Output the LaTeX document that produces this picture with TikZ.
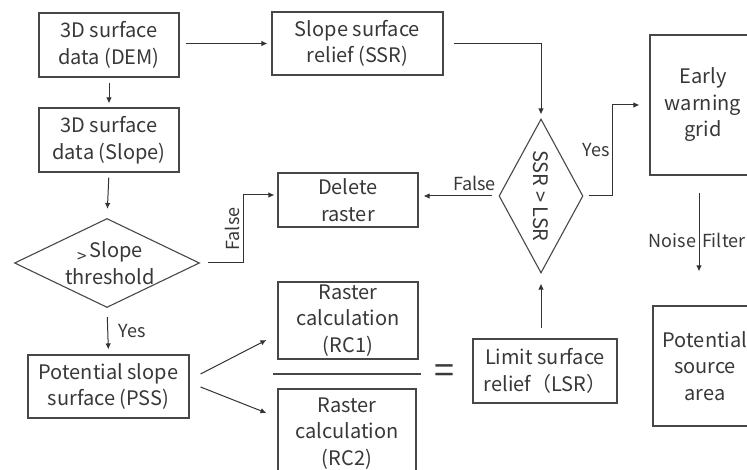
\documentclass[tikz,border=0pt]{standalone}
\usepackage{fontspec}
\newfontfamily\cjk{Noto Sans CJK SC}
\usetikzlibrary{shapes.geometric,arrows.meta}

\begin{document}
\begin{tikzpicture}[x=1pt,y=-1pt,
    every node/.style={font=\cjk\fontsize{20}{26.5}\selectfont,text=black!78},
    box/.style={draw=black!72,line width=1.1pt,align=center,inner sep=0pt},
    dia/.style={draw=black!72,line width=1.1pt,diamond,inner sep=0pt},
    arr/.style={draw=black!80,line width=1pt,-{Latex[length=6pt,width=5.5pt]}},
    lbl/.style={font=\cjk\fontsize{18}{20}\selectfont,inner sep=2.5pt}]
    \useasboundingbox (0,0) rectangle (747,470);
    \clip (0,0) rectangle (747,470);
    \fill[white] (0,0) rectangle (747,470);
    \node[box,minimum width=140pt,minimum height=64pt] (dem) at (109,45) {3D surface\\data (DEM)};
    \node[box,minimum width=171pt,minimum height=63pt] (ssr) at (357.5,43.5) {Slope surface\\relief (SSR)};
    \node[box,minimum width=140pt,minimum height=64pt] (slope) at (109,140) {3D surface\\data (Slope)};
    \node[dia,minimum width=185pt,minimum height=89pt] (thr) at (107,263) {};
    \node[align=center] (thrtxt) at (110,263) {\raisebox{-5pt}{\fontsize{17}{17}\selectfont >}\,Slope\\threshold};
    \node[box,minimum width=140pt,minimum height=54pt] (del) at (348,200) {Delete\\raster};
    \node[box,minimum width=161pt,minimum height=63pt] (pss) at (108.5,386.5) {Potential slope\\surface (PSS)};
    \node[box,minimum width=140pt,minimum height=77pt] (rc1) at (348,320.5) {Raster\\calculation\\(RC1)};
    \node[box,minimum width=138pt,minimum height=89pt] (rc2) at (347,433.5) {Raster\\calculation\\(RC2)};
    \draw[black!72,line width=1.1pt] (273,374) -- (421,374);
    \node[font=\cjk\fontsize{36}{36}\selectfont] (eq) at (444,374) {=};
    \node[box,minimum width=144pt,minimum height=64pt] (lsr) at (545,371) {Limit surface\\relief（LSR）};
    \node[dia,minimum width=84pt,minimum height=154pt] (cmp) at (541,196) {};
    \node[rotate=-90] (cmptxt) at (541,196) {SSR > LSR};
    \node[box,minimum width=106pt,minimum height=140pt] (ewg) at (703,105) {Early\\warning\\grid};
    \node[box,minimum width=104pt,minimum height=120pt] (psa) at (705,366) {Potential\\source\\area};

    \draw[arr,shorten <=6pt,shorten >=4pt] (dem.east|-ssr.west) -- (ssr.west);
    \draw[arr,shorten <=5pt,shorten >=4pt] (dem.south) -- (slope.north);
    \draw[arr,shorten <=5pt,shorten >=9pt] (slope.south) -- (thr.north);
    \draw[arr,shorten >=3pt] ([shift={(8,0)}]thr.east) -- ++(35,0) |- node[lbl,pos=0.25,rotate=90,anchor=south]{False} ([shift={(0,-5)}]del.west);
    \draw[arr,shorten <=9pt,shorten >=5pt] (thr.south) -- node[lbl,midway,right,xshift=8pt]{Yes} (pss.north);
    \draw[arr] ([shift={(11,-12.5)}]pss.east) -- ([shift={(-11,19.5)}]rc1.west);
    \draw[arr] ([shift={(11,0.5)}]pss.east) -- ([shift={(-11,-20.5)}]rc2.west);
    \draw[arr,shorten <=10pt,shorten >=4pt] (ssr.east) -| (cmp.north);
    \draw[arr,shorten <=6pt,shorten >=5pt] (cmp.west) -- node[lbl,pos=0.3,above,yshift=2pt]{False} (cmp.west-|del.east);
    \draw[arr,shorten <=5pt,shorten >=10pt] (cmp.east) -- ++(29,0) |- node[lbl,pos=0.25,left]{Yes} (ewg.west);
    \draw[arr,shorten <=10pt,shorten >=10pt] (cmp.south|-lsr.north) -- (cmp.south);
    \draw[arr,shorten <=17pt,shorten >=34pt] ([shift={(-4,0)}]ewg.south) -- node[lbl,midway,left]{Noise} node[lbl,midway,right]{Filter} ([shift={(-6,0)}]psa.north);
\end{tikzpicture}
\end{document}
